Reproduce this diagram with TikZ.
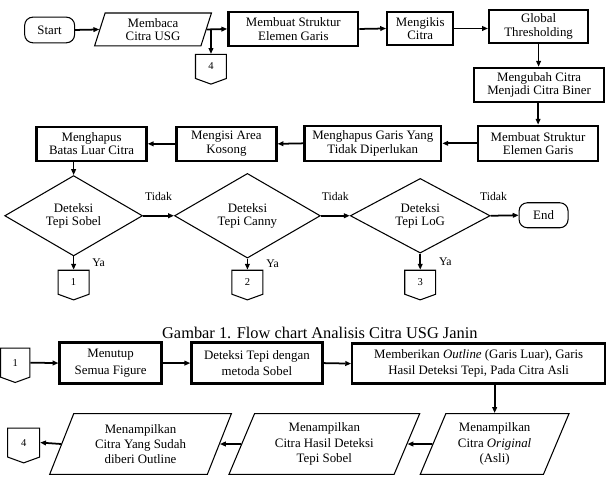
\documentclass[tikz,border=0pt]{standalone}
\usepackage{fontspec}
\setmainfont{Liberation Serif}
\usetikzlibrary{arrows.meta,positioning,shapes.geometric,shapes.symbols}

\newcommand{\boxfont}{\fontsize{11}{11.5}\selectfont}
\newcommand{\lowfont}{\fontsize{11}{14}\selectfont}

\tikzset{
  proc/.style={draw,line width=2pt,align=center,inner sep=1pt,font=\boxfont},
  term/.style={draw,line width=0.9pt,rounded corners=7pt,minimum width=1.5cm,
        minimum height=0.77cm,font=\boxfont},
  dec/.style={draw,diamond,line width=0.9pt,align=center,inner sep=0pt,
        minimum height=1.74cm,font=\boxfont},
  iotop/.style={draw,trapezium,trapezium left angle=67,trapezium right angle=113,
        trapezium stretches body,line width=0.9pt,align=center,inner sep=1pt,font=\boxfont},
  iobot/.style={draw,trapezium,trapezium left angle=60,trapezium right angle=120,
        trapezium stretches body,line width=0.9pt,align=center,inner sep=1pt,
        minimum height=1.83cm,font=\fontsize{11}{13}\selectfont},
  offpage/.style={draw,signal,signal to=south,signal pointer angle=140,line width=0.9pt,
        minimum width=0.93cm,minimum height=0.75cm,inner sep=0pt,font=\small},
  arr/.style={-{Triangle[length=5pt,width=4pt]},line width=1.5pt},
  lbl/.style={font=\fontsize{10}{12}\selectfont,inner sep=0pt}
}

\begin{document}
\begin{tikzpicture}[x=0.03cm,y=-0.03cm]
  \path[fill=white] (0,0) rectangle (615,501);

  %% top row
  \node[term] (start) at (49,30) {Start};
  \node[iotop,minimum width=3.51cm,minimum height=0.99cm] (baca) at (152.5,29.5) {Membaca\\Citra USG};
  \node[proc,minimum width=3.9cm,minimum height=1.02cm] (struk1) at (293,29) {Membuat Struktur\\Elemen Garis};
  \node[proc,minimum width=1.98cm,minimum height=0.99cm] (kikis) at (420,28.5) {Mengikis\\Citra};
  \node[proc,minimum width=2.97cm,minimum height=0.99cm] (thres) at (538.5,26.5) {Global\\Thresholding};
  \node[offpage,anchor=north] (c4a) at (210.5,54) {4};

  %% right column and second row
  \node[proc,minimum width=3.9cm,minimum height=1.02cm] (biner) at (539,85) {Mengubah Citra\\Menjadi Citra Biner};
  \node[proc,minimum width=3.6cm,minimum height=1.05cm] (struk2) at (538,143.5) {Membuat Struktur\\Elemen Garis};
  \node[proc,minimum width=4.11cm,minimum height=1.05cm] (hapusgaris) at (372.5,143.5) {Menghapus Garis Yang\\Tidak Diperlukan};
  \node[proc,minimum width=3.0cm,minimum height=1.02cm] (isi) at (226,144) {Mengisi Area\\Kosong};
  \node[proc,minimum width=3.3cm,minimum height=1.02cm] (hapusbatas) at (91,144) {Menghapus\\Batas Luar Citra};

  %% decisions
  \node[dec,minimum width=4.14cm] (sobel) at (73,216) {Deteksi\\Tepi Sobel};
  \node[dec,minimum width=4.38cm] (canny) at (247,216) {Deteksi\\Tepi Canny};
  \node[dec,minimum width=4.2cm] (log) at (420,216) {Deteksi\\Tepi LoG};
  \node[term,minimum width=1.47cm,minimum height=0.75cm] (end) at (543.5,215.5) {End};
  \node[offpage,anchor=north] (c1a) at (73,270) {1};
  \node[offpage,anchor=north] (c2a) at (247,270) {2};
  \node[offpage,anchor=north] (c3a) at (420,270) {3};

  %% caption
  \node (cap) at (319.5,333) {\fontsize{14}{16}\selectfont Gambar 1. Flow chart Analisis Citra USG Janin};

  %% second chart
  \node[offpage,anchor=north,minimum width=0.88cm,minimum height=0.9cm] (c1b) at (14.5,348) {1};
  \node[proc,minimum width=3.06cm,minimum height=1.23cm,font=\lowfont] (tutup) at (110,363.5) {Menutup\\Semua Figure};
  \node[proc,minimum width=3.93cm,minimum height=1.23cm,font=\lowfont] (tepi) at (256.5,363.5) {Deteksi Tepi dengan\\metoda Sobel};
  \node[proc,minimum width=7.59cm,minimum height=1.2cm,font=\lowfont] (garis) at (478.5,364)
        {Memberikan \textit{Outline} (Garis Luar), Garis\\Hasil Deteksi Tepi, Pada Citra Asli};
  \node[iobot,minimum width=4.47cm] (asli) at (494.5,444.5) {Menampilkan\\Citra \textit{Original}\\(Asli)};
  \node[iobot,minimum width=5.73cm] (hasil) at (324,444.5) {Menampilkan\\Citra Hasil Deteksi\\Tepi Sobel};
  \node[iobot,minimum width=5.46cm] (tampil) at (140,444.5) {Menampilkan\\Citra Yang Sudah\\diberi Outline};
  \node[offpage,anchor=north,minimum width=0.96cm,minimum height=0.9cm] (c4b) at (23,428) {4};

  %% flow arrows
  \draw[arr] (start.east) -- (baca.west);
  \draw[arr] (baca.east) -- (struk1.west);
  \draw[arr] (c4a.north |- baca.east) -- (c4a.north);
  \draw[arr] (struk1.east) -- (kikis.west);
  \draw[arr] (kikis.east) -- (thres.west |- kikis.east);
  \draw[arr] (thres.south) -- (thres.south |- biner.north);
  \draw[arr] (struk2.north |- biner.south) -- (struk2.north);
  \draw[arr] (struk2.west) -- (hapusgaris.east);
  \draw[arr] (hapusgaris.west) -- (isi.east);
  \draw[arr] (isi.west) -- (hapusbatas.east);
  \draw[arr] (sobel.north |- hapusbatas.south) -- (sobel.north);

  %% decision arrows
  \draw[arr] (sobel.east) -- (canny.west) node[lbl,midway,above=0.44cm] {Tidak};
  \draw[arr] (canny.east) -- (log.west) node[lbl,midway,above=0.44cm] {Tidak};
  \draw[arr] (log.east) -- (end.west) node[lbl,pos=0.1,above=0.44cm] {Tidak};
  \draw[arr] (sobel.south) -- (c1a.north) node[lbl,midway,right=0.54cm] {Ya};
  \draw[arr] (canny.south) -- (c2a.north) node[lbl,midway,right=0.54cm] {Ya};
  \draw[arr] (log.south) -- (c3a.north) node[lbl,midway,right=0.54cm] {Ya};

  %% second chart arrows
  \draw[arr] (c1b.east) -- (tutup.west);
  \draw[arr] (tutup.east) -- (tepi.west);
  \draw[arr] (tepi.east) -- (garis.west);
  \draw[arr] (asli.north |- garis.south) -- (asli.north);
  \draw[arr] (asli.west) -- (hasil.east);
  \draw[arr] (hasil.west) -- (tampil.east);
  \draw[arr] (tampil.west) -- (c4b.east);
\end{tikzpicture}
\end{document}
